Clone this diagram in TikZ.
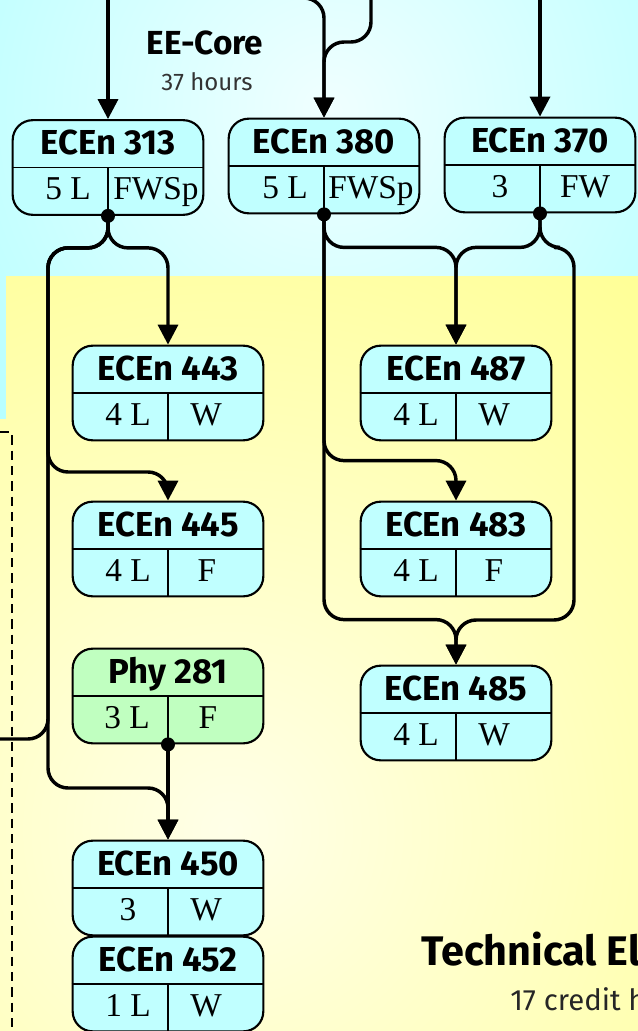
\documentclass[tikz,border=0pt]{standalone}
\usepackage{fontspec}
\setmainfont{Liberation Serif}
\newfontfamily\cfont{Fira Sans}
\usetikzlibrary{arrows.meta,calc}
\definecolor{skycyan}{RGB}{150,255,255}
\definecolor{skylight}{RGB}{240,255,255}
\definecolor{sunyel}{RGB}{255,255,128}
\definecolor{sunlight}{RGB}{255,255,232}
\definecolor{boxcyan}{RGB}{192,255,255}
\definecolor{boxgreen}{RGB}{192,255,192}
\begin{document}
\begin{tikzpicture}[x=0.75pt,y=0.75pt,yscale=-1,xscale=1,
  course/.style={draw,line width=1.6pt,rounded corners=15pt,minimum width=143pt,minimum height=71pt,inner sep=0pt},
  rule/.style={line width=1.3pt},
  ctitle/.style={font=\cfont\bfseries\fontsize{26}{30}\selectfont,anchor=base,inner sep=0pt},
  cell/.style={font=\fontsize{25}{30}\selectfont,anchor=base,inner sep=0pt},
  wire/.style={line width=2.6pt,rounded corners=15pt},
  arr/.style={-{Triangle[width=15pt,length=15pt]}},
  dot/.style={circle,fill,inner sep=0pt,minimum size=10.5pt},
  grpedge/.style={line width=2pt,dash pattern=on 7pt off 4.5pt}]
\useasboundingbox (0,0) rectangle (638,1031);

%Shape: background, EE-Core
\begin{scope}
\clip (0,0) rectangle (638,276) (0,276) rectangle (6,419);
\shade[inner color=skylight,outer color=skycyan] (330,110) circle (720);
\end{scope}
%Shape: background, technical electives
\begin{scope}
\clip (6,276) rectangle (638,1031) (0,419) rectangle (6,1031);
\shade[inner color=sunlight,outer color=sunyel] (230,830) circle (880);
\end{scope}

%Shape: group edge (dashed)
\coordinate (grpL) at (0,432);
\coordinate (grpC) at (12,432);
\coordinate (grpB) at (12,1031);
\draw[grpedge] (grpL) -- (grpC) -- (grpB);

% Text Node
\node[font=\cfont\bfseries\fontsize{25}{28}\selectfont,anchor=base,inner sep=0pt] (coreT) at (205,55) {EE-Core};
% Text Node
\node[font=\cfont\fontsize{18}{20}\selectfont,text=black!80,anchor=base,inner sep=0pt] (coreH) at (207,90) {37 hours};
% Text Node
\node[font=\cfont\bfseries\fontsize{31}{36}\selectfont,anchor=base west,inner sep=0pt] (techT) at (421,965) {Technical Electives};
% Text Node
\node[font=\cfont\fontsize{22}{26}\selectfont,text=black!85,anchor=base west,inner sep=0pt] (techH) at (510,1010) {17 credit hours};

%Shape: ECEn 313
\node[course,fill=boxcyan] (e313) at (108,167.5) {};
\draw[rule] (e313.west) -- (e313.east) (e313.center) -- (e313.south);
\node[ctitle] at ($(e313)+(0,-13)$) {ECEn 313};
\node[cell] at ($(e313)+(-40,32)$) {5 L};
\node[cell] at ($(e313)+(48,32)$) {FWSp};
%Shape: ECEn 380
\node[course,fill=boxcyan] (e380) at (324,166) {};
\draw[rule] (e380.west) -- (e380.east) (e380.center) -- (e380.south);
\node[ctitle] at ($(e380)+(0,-13)$) {ECEn 380};
\node[cell] at ($(e380)+(-39,32)$) {5 L};
\node[cell] at ($(e380)+(47,32)$) {FWSp};
%Shape: ECEn 370
\node[course,fill=boxcyan] (e370) at (540,165) {};
\draw[rule] (e370.west) -- (e370.east) (e370.center) -- (e370.south);
\node[ctitle] at ($(e370)+(0,-13)$) {ECEn 370};
\node[cell] at ($(e370)+(-40,32)$) {3};
\node[cell] at ($(e370)+(45,32)$) {FW};
%Shape: ECEn 443
\node[course,fill=boxcyan] (e443) at (168,393) {};
\draw[rule] (e443.west) -- (e443.east) (e443.center) -- (e443.south);
\node[ctitle] at ($(e443)+(0,-13)$) {ECEn 443};
\node[cell] at ($(e443)+(-40,32)$) {4 L};
\node[cell] at ($(e443)+(38,32)$) {W};
%Shape: ECEn 445
\node[course,fill=boxcyan] (e445) at (168,549) {};
\draw[rule] (e445.west) -- (e445.east) (e445.center) -- (e445.south);
\node[ctitle] at ($(e445)+(0,-13)$) {ECEn 445};
\node[cell] at ($(e445)+(-40,32)$) {4 L};
\node[cell] at ($(e445)+(39,32)$) {F};
%Shape: Phy 281
\node[course,fill=boxgreen] (p281) at (168,696) {};
\draw[rule] (p281.west) -- (p281.east) (p281.center) -- (p281.south);
\node[ctitle] at ($(p281)+(0,-13)$) {Phy 281};
\node[cell] at ($(p281)+(-41,32)$) {3 L};
\node[cell] at ($(p281)+(40,32)$) {F};
%Shape: ECEn 450
\node[course,fill=boxcyan] (e450) at (168,888) {};
\draw[rule] (e450.west) -- (e450.east) (e450.center) -- (e450.south);
\node[ctitle] at ($(e450)+(0,-13)$) {ECEn 450};
\node[cell] at ($(e450)+(-40,32)$) {3};
\node[cell] at ($(e450)+(38,32)$) {W};
%Shape: ECEn 452
\node[course,fill=boxcyan] (e452) at (168,984) {};
\draw[rule] (e452.west) -- (e452.east) (e452.center) -- (e452.south);
\node[ctitle] at ($(e452)+(0,-13)$) {ECEn 452};
\node[cell] at ($(e452)+(-40,32)$) {1 L};
\node[cell] at ($(e452)+(38,32)$) {W};
%Shape: ECEn 487
\node[course,fill=boxcyan] (e487) at (456,393) {};
\draw[rule] (e487.west) -- (e487.east) (e487.center) -- (e487.south);
\node[ctitle] at ($(e487)+(0,-13)$) {ECEn 487};
\node[cell] at ($(e487)+(-40,32)$) {4 L};
\node[cell] at ($(e487)+(38,32)$) {W};
%Shape: ECEn 483
\node[course,fill=boxcyan] (e483) at (456,549) {};
\draw[rule] (e483.west) -- (e483.east) (e483.center) -- (e483.south);
\node[ctitle] at ($(e483)+(0,-13)$) {ECEn 483};
\node[cell] at ($(e483)+(-40,32)$) {4 L};
\node[cell] at ($(e483)+(38,32)$) {F};
%Shape: ECEn 485
\node[course,fill=boxcyan] (e485) at (456,713) {};
\draw[rule] (e485.west) -- (e485.east) (e485.center) -- (e485.south);
\node[ctitle] at ($(e485)+(0,-13)$) {ECEn 485};
\node[cell] at ($(e485)+(-40,32)$) {4 L};
\node[cell] at ($(e485)+(38,32)$) {W};

%Curve Lines: into the core
\coordinate (in313) at (108,0);
\coordinate (in380a) at (296,-2);
\coordinate (in380b) at (371,0);
\coordinate (in370) at (540,0);
\coordinate (offleft) at (0,739);
\draw[wire,arr] (in313) -- (e313.north);
\draw[wire,arr] (in380a) -| (e380.north);
\draw[wire,arr] (in380b) -- (371,42) -| (e380.north);
\draw[wire,arr] (in370) -- (e370.north);

%Curve Lines: from ECEn 313
\draw[wire,arr] (e313.south) -- ++(0,32) -| (e443.north);
\draw[wire,arr] (e313.south) -- ++(0,32) -| (48,472) -| (e445.north);
\draw[wire,arr] (e313.south) -- ++(0,32) -| (48,788) -| (e450.north);
\draw[wire] (e313.south) -- ++(0,32) -| (48,739) -- (offleft);
\draw[wire,arr] (p281.south) -- (e450.north);

%Curve Lines: from ECEn 380 and ECEn 370
\draw[wire,arr] (e380.south) -- ++(0,33) -| (e487.north);
\draw[wire,arr] (e380.south) |- ($(e483.north)+(0,-40)$) -- (e483.north);
\draw[wire,arr] (e380.south) |- ($(e485.north)+(0,-45)$) -- (e485.north);
\draw[wire,arr] (e370.south) -- ++(0,34) -| (e487.north);
\draw[wire,arr] (e370.south) -- ++(0,34) -| (574,620) -| (e485.north);

%Shape: junction dots
\node[dot] (d313) at (e313.south) {};
\node[dot] (d380) at (e380.south) {};
\node[dot] (d370) at (e370.south) {};
\node[dot] (d281) at (p281.south) {};

\end{tikzpicture}
\end{document}
